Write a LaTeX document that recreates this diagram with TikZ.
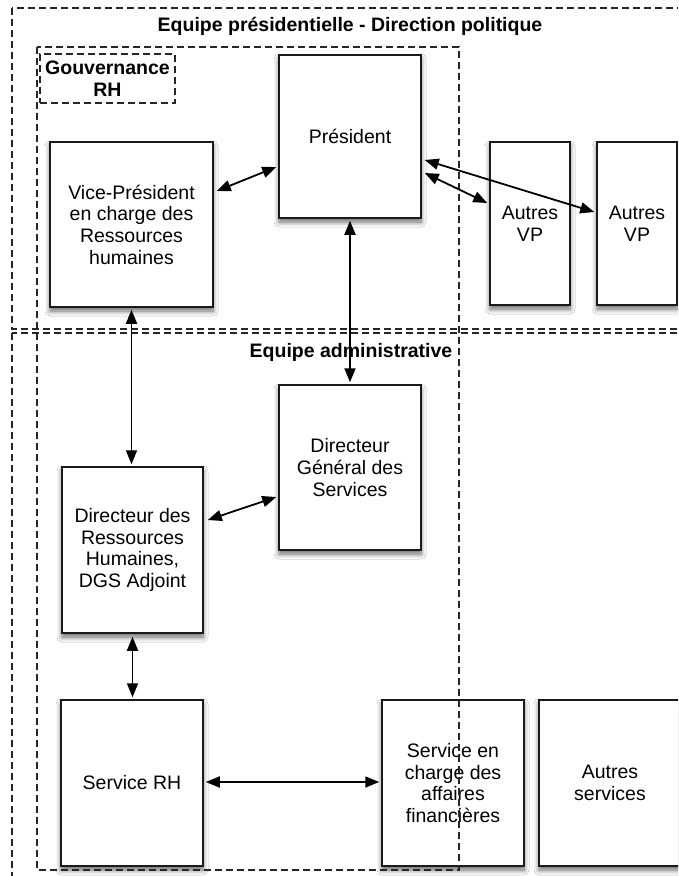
\documentclass[tikz,border=0pt]{standalone}
\usepackage{fontspec}
\setmainfont{Liberation Sans}
\usetikzlibrary{arrows.meta,shadows.blur}
\begin{document}
\begin{tikzpicture}[x=1pt,y=-1pt,
  box/.style={draw=black!90, line width=1.5pt, fill=white, align=center, inner sep=0pt,
    blur shadow={shadow xshift=0pt,shadow yshift=-4pt,shadow blur steps=8,shadow blur radius=5pt,shadow opacity=60},
    font=\fontsize{19.5}{21.7}\selectfont},
  zone/.style={draw=black!85, line width=1.2pt, dash pattern=on 7pt off 4pt},
  dbl/.style={{Triangle[length=14pt,width=11pt]}-{Triangle[length=14pt,width=11pt]}, line width=1.8pt},
  ttl/.style={font=\bfseries\fontsize{19.5}{21.7}\selectfont, align=center, inner sep=0pt}]

\fill[white] (0,0) rectangle (678,876);
\useasboundingbox (0,0) rectangle (678,876);
\clip (0,0) rectangle (678,876);

% boxes
\node[box, minimum width=142pt, minimum height=163pt] (pres) at (350,136.5) {Président};
\node[box, minimum width=163pt, minimum height=165pt] (vp) at (131.5,224.5) {Vice-Président\\en charge des\\Ressources\\humaines};
\node[box, minimum width=80pt, minimum height=163pt] (avp1) at (530,223.5) {Autres\\VP};
\node[box, minimum width=80pt, minimum height=163pt] (avp2) at (637,223.5) {Autres\\VP};
\node[box, minimum width=142pt, minimum height=165pt] (dgs) at (350,467.5) {Directeur\\Général des\\Services};
\node[box, minimum width=141pt, minimum height=166pt] (drh) at (132.5,550) {Directeur des\\Ressources\\Humaines,\\DGS Adjoint};
\node[box, minimum width=142pt, minimum height=166pt] (srh) at (132,783) {Service RH};
\node[box, minimum width=142pt, minimum height=166pt] (sfin) at (453,783) {Service en\\charge des\\affaires\\financières};
\node[box, minimum width=142pt, minimum height=166pt] (aserv) at (610,783) {Autres\\services};

% zones
\draw[zone] (12,8) rectangle (720,329);
\draw[zone] (12,333) rectangle (720,920);
\draw[zone] (37,47) rectangle (459,870);

% titles
\node[ttl] (t1) at (350,26) {Equipe présidentielle - Direction politique};
\node[ttl] (t2) at (351,352) {Equipe administrative};
\node[ttl, zone, minimum width=135pt, minimum height=49pt] (gov) at (107.5,78.5) {Gouvernance\\RH};

% connectors
\draw[dbl] ([xshift=3pt,yshift=33.5pt]vp.east) -- ([xshift=-2pt,yshift=-30.5pt]pres.west);
\draw[dbl] ([xshift=3pt,yshift=-36.5pt]pres.east) -- ([xshift=-2pt,yshift=20.5pt]avp1.west);
\draw[dbl] ([xshift=3pt,yshift=-23.5pt]pres.east) -- ([xshift=-2pt,yshift=11.5pt]avp2.west);
\draw[dbl] ([yshift=-2pt]vp.south) -- ([yshift=2pt]vp.south |- drh.north);
\draw[dbl] ([yshift=-2pt]pres.south) -- ([yshift=2pt]dgs.north);
\draw[dbl] ([xshift=4pt,yshift=30pt]drh.east) -- ([xshift=-2pt,yshift=-29.5pt]dgs.west);
\draw[dbl] ([yshift=-3pt]drh.south) -- ([yshift=2pt]drh.south |- srh.north);
\draw[dbl] ([xshift=2pt,yshift=1pt]srh.east) -- ([xshift=-2pt,yshift=1pt]sfin.west);
\end{tikzpicture}
\end{document}
